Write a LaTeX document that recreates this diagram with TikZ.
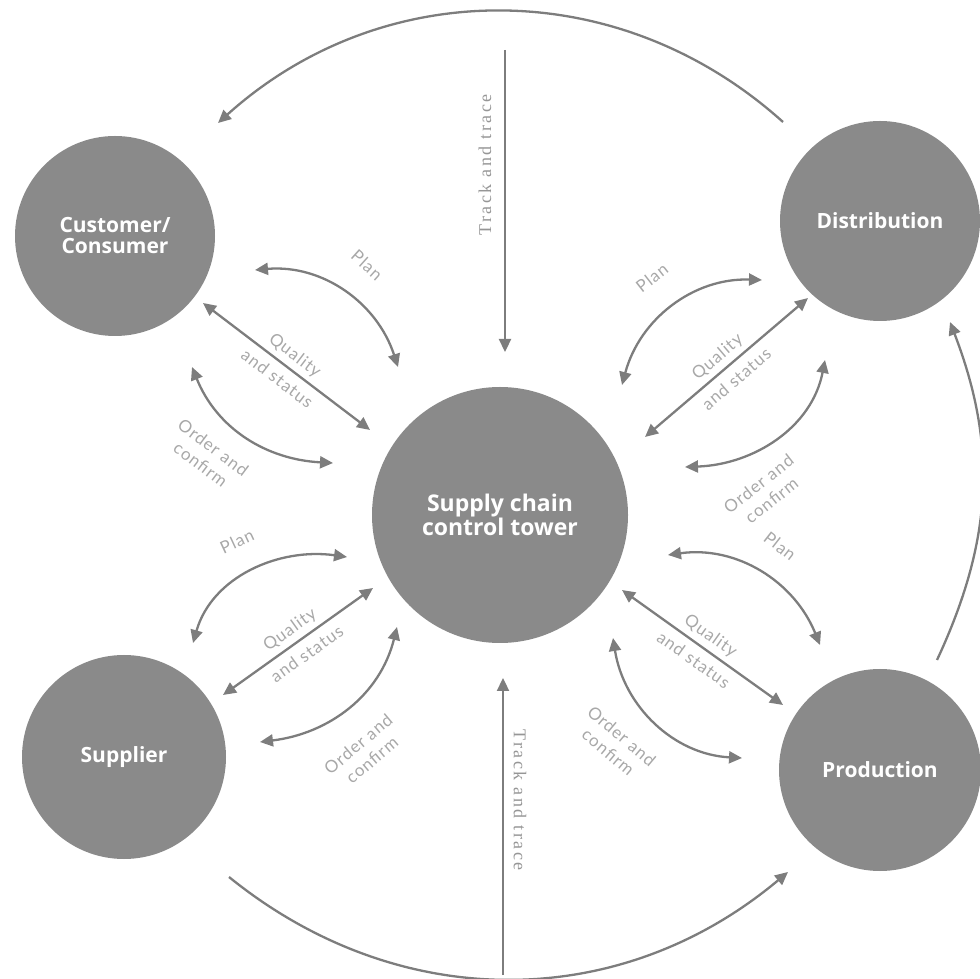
\documentclass[tikz,border=0pt]{standalone}
\usepackage{fontspec}
\usetikzlibrary{arrows.meta}
\newfontfamily\nodefont{Open Sans}
\newfontfamily\labfont[LetterSpace=6]{Lato}
\newfontfamily\trfont[LetterSpace=14]{Liberation Serif}
\definecolor{circ}{HTML}{8A8A8A}
\definecolor{arrc}{HTML}{7D7D7D}
\definecolor{labc}{HTML}{A8A8A8}
\definecolor{trc}{HTML}{969696}
\begin{document}
\begin{tikzpicture}[x=1pt,y=1pt,
  hub/.style={circle, fill=circ, text=white, inner sep=0pt, align=center,
    font=\nodefont\bfseries\fontsize{21}{21}\selectfont},
  link/.style={draw=arrc, line width=2.3pt},
  one/.style={link, -{Triangle[length=13pt,width=12pt]}},
  two/.style={link, {Triangle[length=13pt,width=12pt]}-{Triangle[length=13pt,width=12pt]}},
  lbl/.style={text=labc, align=center, inner sep=0pt, font=\labfont\fontsize{17}{21}\selectfont},
  qlbl/.style={lbl, font=\labfont\fontsize{17}{30}\selectfont},
  trace/.style={text=trc, inner sep=0pt, font=\trfont\fontsize{18}{18}\selectfont}]
\useasboundingbox (0,0) rectangle (980,978);

% main nodes
\node[hub, minimum size=200pt] (cust) at (115,742) {Customer/\\Consumer};
\node[hub, minimum size=200pt] (dist) at (880,757) {Distribution};
\node[hub, minimum size=204pt] (supp) at (124,221) {Supplier};
\node[hub, minimum size=202pt] (prod) at (880,208) {Production};
\node[hub, minimum size=256pt, font=\nodefont\bfseries\fontsize{23}{22}\selectfont] (tower) at (500,463) {Supply chain\\control tower};

% outer cycle
\coordinate (topS) at (783,856);
\coordinate (topE) at (218,855);
\draw[one] (topS) to[out=138,in=42] (topE);
\coordinate (botS) at (229,101);
\coordinate (botE) at (788,106);
\draw[one] (botS) to[out=-39,in=220] (botE);
\coordinate (rS) at (937,318);
\coordinate (rE) at (950,656);
\draw[one] (rS) to[out=65,in=-69] (rE);

% track and trace
\coordinate (ttS) at (505,928);
\coordinate (ttE) at (505,626);
\draw[one] (ttS) -- (ttE);
\node[trace, rotate=90] (tt1) at (485,813) {Track and trace};
\coordinate (tbS) at (503,3);
\coordinate (tbE) at (503,300);
\draw[one] (tbS) -- (tbE);
\node[trace, rotate=-90] (tt2) at (520,178) {Track and trace};

% Customer (upper left)
\coordinate (c1a) at (255,708); \coordinate (c1b) at (398,611);
\draw[two] (c1a) to[out=5,in=108] (c1b);
\node[lbl, rotate=-42] (c1l) at (367,713) {Plan};
\coordinate (c2a) at (203,675); \coordinate (c2b) at (370,548);
\draw[two] (c2a) -- node[qlbl, sloped] (c2l) {Quality\\and status} (c2b);
\coordinate (c3a) at (192,611); \coordinate (c3b) at (333,515);
\draw[two] (c3a) to[out=-68,in=177] (c3b);
\node[lbl, rotate=-37] (c3l) at (207,522) {Order and\\confirm};

% Distribution (upper right)
\coordinate (d1a) at (762,698); \coordinate (d1b) at (622,593);
\draw[two] (d1a) to[out=178,in=75] (d1b);
\node[lbl, rotate=38] (d1l) at (652,700) {Plan};
\coordinate (d2a) at (645,541); \coordinate (d2b) at (808,680);
\draw[two] (d2a) -- node[qlbl, sloped] (d2l) {Quality\\and status} (d2b);
\coordinate (d3a) at (825,618); \coordinate (d3b) at (685,511);
\draw[two] (d3a) to[out=-101,in=2] (d3b);
\node[lbl, rotate=38] (d3l) at (765,486) {Order and\\confirm};

% Supplier (lower left)
\coordinate (s1a) at (347,421); \coordinate (s1b) at (193,335);
\draw[two] (s1a) to[out=172,in=74] (s1b);
\node[lbl, rotate=25] (s1l) at (237,437) {Plan};
\coordinate (s2a) at (223,283); \coordinate (s2b) at (373,390);
\draw[two] (s2a) -- node[qlbl, sloped] (s2l) {Quality\\and status} (s2b);
\coordinate (s3a) at (397,351); \coordinate (s3b) at (260,236);
\draw[two] (s3a) to[out=-104,in=7] (s3b);
\node[lbl, rotate=40] (s3l) at (365,226) {Order and\\confirm};

% Production (lower right)
\coordinate (p1a) at (668,423); \coordinate (p1b) at (820,333);
\draw[two] (p1a) to[out=8,in=112] (p1b);
\node[lbl, rotate=-38] (p1l) at (780,432) {Plan};
\coordinate (p2a) at (622,388); \coordinate (p2b) at (783,273);
\draw[two] (p2a) -- node[qlbl, sloped] (p2l) {Quality\\and status} (p2b);
\coordinate (p3a) at (613,340); \coordinate (p3b) at (742,220);
\draw[two] (p3a) to[out=-81,in=177] (p3b);
\node[lbl, rotate=-40] (p3l) at (615,234) {Order and\\confirm};
\end{tikzpicture}
\end{document}
